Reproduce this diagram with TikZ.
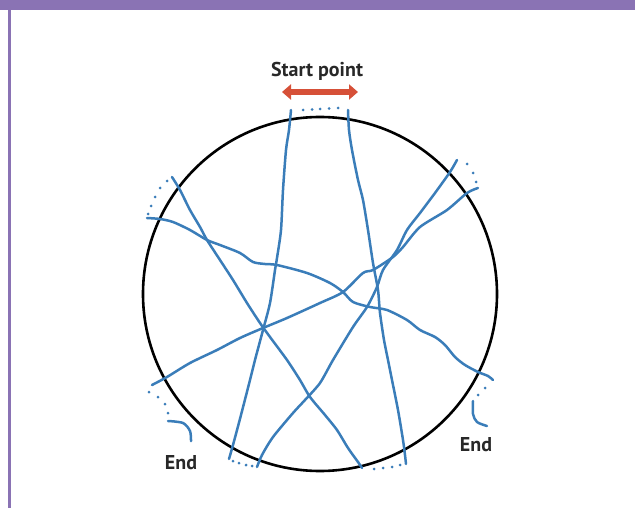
\documentclass[tikz,border=0pt]{standalone}
\usepackage{fontspec}
\setmainfont{PT Sans}
\usetikzlibrary{arrows.meta}
\definecolor{strand}{RGB}{58,125,185}
\definecolor{frame}{RGB}{138,115,180}
\definecolor{startred}{RGB}{214,80,56}
\definecolor{labelgray}{RGB}{40,40,40}
\tikzset{
  strandline/.style={draw=strand, line width=2.5pt, line cap=round, line join=round},
  dotmark/.style={fill=strand, draw=none},
  lbl/.style={font=\bfseries\fontsize{20}{24}\selectfont, text=labelgray, inner sep=0pt},
}
\newcommand{\bluedot}[1]{\fill[dotmark] #1 circle (1.5);}
\begin{document}
\begin{tikzpicture}[x=1pt,y=-1pt]
\useasboundingbox (0,0) rectangle (635,508);
% frame
\fill[frame] (0,0) rectangle (635,10);
\fill[frame] (8,10) rectangle (11,508);
% circle
\node[circle, draw=black, line width=2.6pt, minimum size=354pt, inner sep=0pt] (ring) at (320,294) {};
% strands
\draw[strandline] plot[smooth, tension=0.45] coordinates {(291,110) (289,130) (286,150) (283,190) (281,230) (277,258) (275,270) (270,303) (263,330) (255,360) (250,380) (241,415) (233,445) (229,459)};
\draw[strandline] plot[smooth, tension=0.45] coordinates {(348,110) (349,130) (352,150) (358,180) (363,200) (368,230) (373,263) (378,290) (380,313) (384,340) (388,360) (392,380) (398,410) (403,440) (405,455) (406,464)};
\draw[strandline] plot[smooth, tension=0.45] coordinates {(172,177) (180,190) (190,210) (200,227) (207,240) (220,260) (233,280) (247,303) (260,323) (270,337) (287,360) (300,380) (310,397) (325,415) (337,430) (348,448) (358,462) (362,468)};
\draw[strandline] plot[smooth, tension=0.45] coordinates {(147,218) (160,219) (173,222) (190,230) (207,240) (220,245) (240,253) (253,262) (265,264) (277,265) (307,273) (330,283) (343,292) (353,302) (370,307) (387,310) (407,320) (420,330) (435,337) (445,345) (455,357) (465,365) (478,372) (488,376) (493,380)};
\draw[strandline] plot[smooth, tension=0.45] coordinates {(457,160) (450,172) (435,193) (420,213) (407,230) (397,250) (383,270) (377,287) (367,307) (353,327) (333,360) (320,383) (305,400) (293,413) (273,437) (262,455) (257,467)};
\draw[strandline] plot[smooth, tension=0.45] coordinates {(478,188) (467,193) (447,210) (420,227) (403,247) (393,257) (373,270) (363,273) (343,292) (320,303) (287,318) (263,328) (240,338) (217,350) (190,363) (167,377) (152,385)};
% end hooks
\draw[strandline] plot[smooth, tension=0.5] coordinates {(168,421) (183,423) (190,431) (191,441)};
\draw[strandline] plot[smooth, tension=0.5] coordinates {(473,401) (473,414) (477,422) (487,426)};
% dots
\foreach \p in {(303,110),(312,109.5),(320,109),(329,108.5),(338,108)} {\bluedot{\p}}
\foreach \p in {(167,181),(160,188),(155,197),(151,206),(148,214)} {\bluedot{\p}}
\foreach \p in {(467,164),(473,173),(476,182)} {\bluedot{\p}}
\foreach \p in {(149,392),(158,397),(165,404),(168,413)} {\bluedot{\p}}
\foreach \p in {(233,461),(239,463),(246,465),(252,466)} {\bluedot{\p}}
\foreach \p in {(374,469),(383,468),(392,467),(400,465)} {\bluedot{\p}}
\foreach \p in {(485,388),(478,395)} {\bluedot{\p}}
% labels
\node[lbl] (startlbl) at (317,71) {Start point};
\node[lbl] (endleft) at (181,463) {End};
\node[lbl] (endright) at (476,445) {End};
% start arrow
\coordinate (arrL) at (282,92);
\coordinate (arrR) at (358,92);
\draw[startred, line width=5.5pt, {Triangle[length=9pt,width=15pt]}-{Triangle[length=9pt,width=15pt]}] (arrL) -- (arrR);
\end{tikzpicture}
\end{document}
